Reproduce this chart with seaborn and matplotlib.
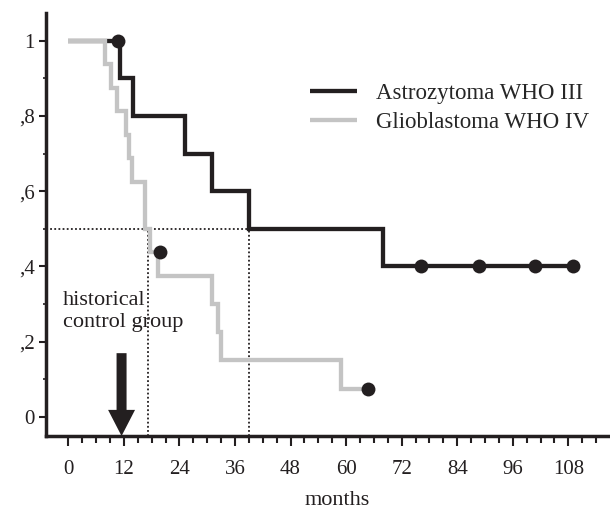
import matplotlib
matplotlib.use("Agg")
import matplotlib.pyplot as plt
import pandas as pd
import seaborn as sns

# Kaplan-Meier steps: month of each drop and the survival reached there
astro_months = [0, 11.2, 14.0, 25.2, 31.0, 39.0, 68.0, 109.0]
astro_surv = [1.0, 0.9, 0.8, 0.7, 0.6, 0.5, 0.4, 0.4]
glio_months = [0, 8.0, 9.2, 10.6, 12.5, 13.2, 13.7, 16.5, 17.7, 19.4,
               31.0, 32.4, 32.9, 59.0, 64.7]
glio_surv = [1.0, 0.9375, 0.875, 0.8125, 0.75, 0.6875, 0.625, 0.5, 0.4375,
             0.375, 0.3, 0.225, 0.15, 0.075, 0.075]

# censored patients
censor_months = [10.8, 76.2, 88.7, 100.8, 109.0, 19.7, 64.7]
censor_surv = [1.0, 0.4, 0.4, 0.4, 0.4, 0.4375, 0.075]

groups = ["Astrozytoma WHO III", "Glioblastoma WHO IV"]
colors = ["#231f20", "#c4c4c4"]

# median survival guides
median_level = 0.5
median_months = [17.3, 39.0]

x_ticks = [0, 12, 24, 36, 48, 60, 72, 84, 96, 108]
y_ticks = [0, 0.2, 0.4, 0.6, 0.8, 1.0]
y_tick_labels = ["0", ",2", ",4", ",6", ",8", "1"]

annotation = "historical\ncontrol group"
arrow_month = 11.5

sns.set_style("ticks")
plt.rcParams["font.family"] = ["Liberation Serif", "DejaVu Serif"]
plt.rcParams["lines.solid_joinstyle"] = "miter"
plt.rcParams["lines.solid_capstyle"] = "butt"

INK = "#231f20"

fig = plt.figure(figsize=(6.10, 5.09), dpi=100)
ax = fig.add_axes([46 / 610, 73 / 509, 564 / 610, 423 / 509])

xmin, xmax = -4.82, 117.0
ymin, ymax = -0.0513, 1.0737

df = pd.concat([
    pd.DataFrame({"months": astro_months, "surv": astro_surv, "group": groups[0]}),
    pd.DataFrame({"months": glio_months, "surv": glio_surv, "group": groups[1]}),
], ignore_index=True)

# median guides (dotted)
ax.hlines(median_level, xmin, median_months[1], colors=INK,
          linestyles=(0, (1, 1.3)), linewidth=1.3, zorder=1)
ax.vlines(median_months, ymin, median_level, colors=INK,
          linestyles=(0, (1, 1.3)), linewidth=1.3, zorder=1)

sns.lineplot(data=df, x="months", y="surv", hue="group", hue_order=groups,
             palette=dict(zip(groups, colors)), estimator=None, sort=False,
             drawstyle="steps-post", linewidth=3.1, ax=ax, legend=True, zorder=2)

sns.scatterplot(x=censor_months, y=censor_surv, color=INK, s=100,
                linewidth=0, ax=ax, zorder=4, legend=False)

handles, labels = ax.get_legend_handles_labels()
leg = ax.legend(handles[:2], labels[:2], loc="upper left",
                bbox_to_anchor=(0.468, 0.835), frameon=False, fontsize=16.5,
                handlelength=2.05, handletextpad=0.83, labelspacing=0.37,
                borderpad=0, borderaxespad=0)
for h in leg.legend_handles:
    h.set_linewidth(3.1)

ax.annotate("", xy=(arrow_month, ymin), xytext=(arrow_month, 0.169),
            arrowprops=dict(arrowstyle="simple,head_length=0.94,head_width=0.97,tail_width=0.36",
                            mutation_scale=20, color=INK, shrinkA=0, shrinkB=0, lw=0),
            zorder=3)

ax.text(-1.1, 0.2386, annotation, fontsize=16, va="baseline", ha="left",
        linespacing=1.22, color=INK)

ax.set_xlim(xmin, xmax)
ax.set_ylim(ymin, ymax)
ax.set_xticks(x_ticks)
ax.set_xticks([m for m in range(0, 115, 3) if m % 12], minor=True)
ax.set_yticks(y_ticks)
ax.set_yticklabels(y_tick_labels)
ax.set_yticks([0.1, 0.3, 0.5, 0.7, 0.9], minor=True)

ax.set_xlabel("months", fontsize=16, color=INK)
ax.xaxis.set_label_coords(0.516, -0.13)
ax.set_ylabel("")

for side in ("top", "right"):
    ax.spines[side].set_visible(False)
for side in ("left", "bottom"):
    ax.spines[side].set_linewidth(2.5)
    ax.spines[side].set_color(INK)

ax.tick_params(axis="x", which="major", length=7, width=1.5, pad=10,
               labelsize=15, colors=INK, direction="out")
ax.tick_params(axis="x", which="minor", length=5, width=1.5, colors=INK,
               direction="out")
ax.tick_params(axis="y", which="major", length=5, width=1.5, pad=3,
               labelsize=15, colors=INK, direction="out")
ax.tick_params(axis="y", which="minor", length=2.5, width=1.2, colors=INK,
               direction="out")

fig.savefig("out.png", dpi=100)
